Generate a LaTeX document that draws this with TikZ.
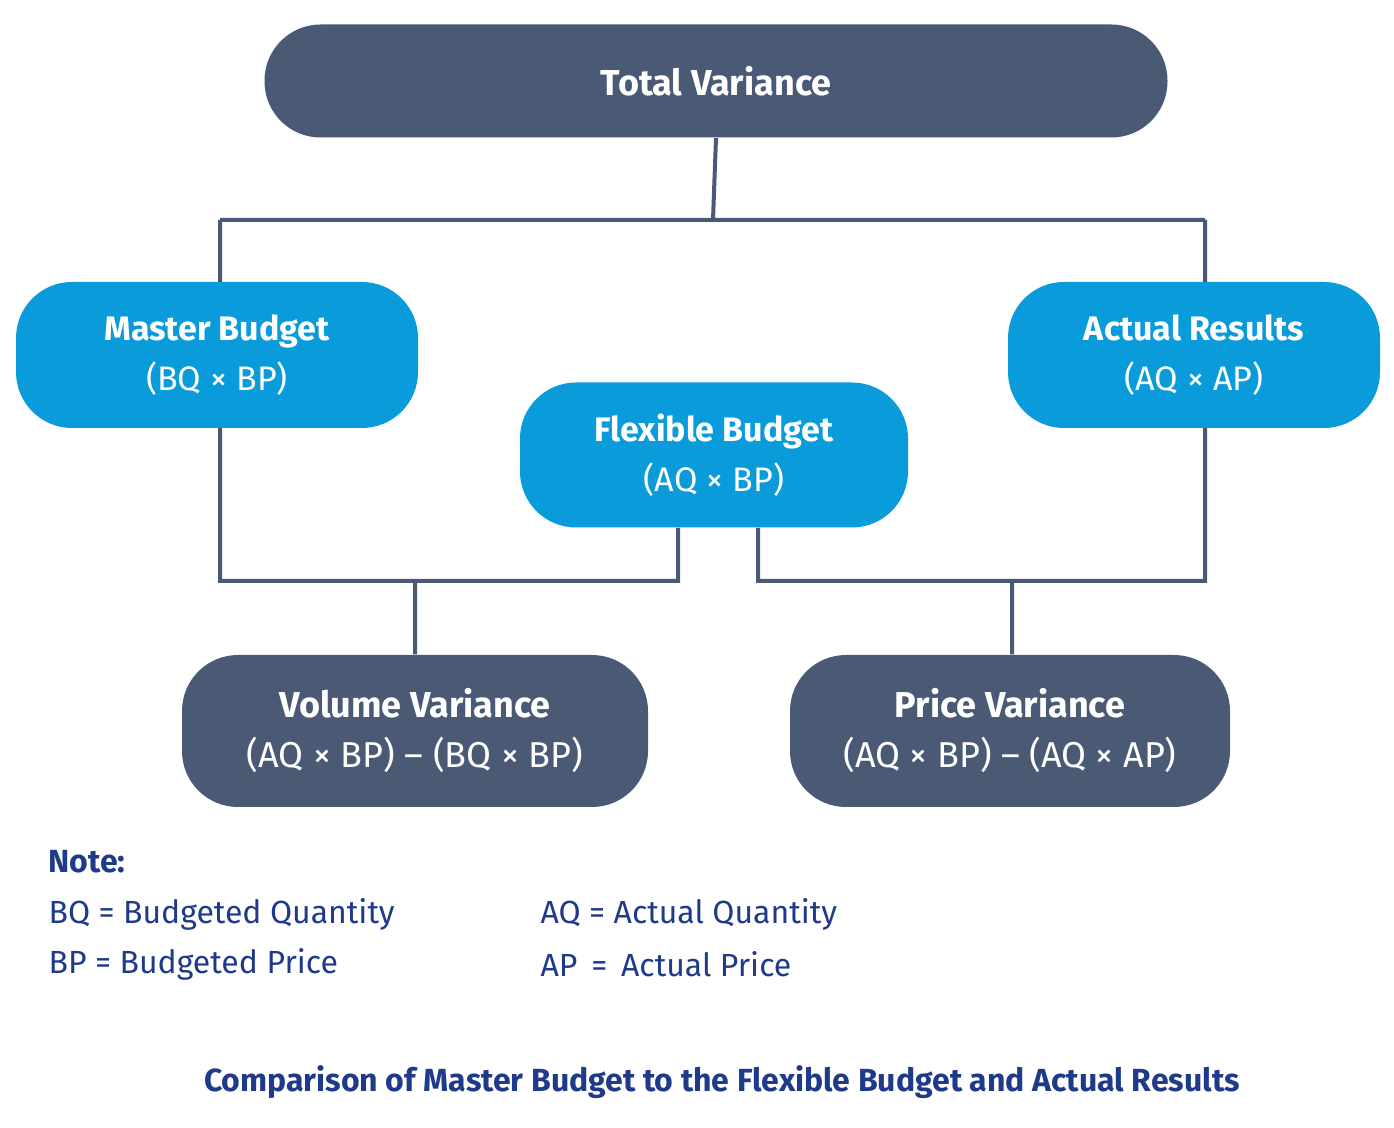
\documentclass[tikz,border=0pt]{standalone}
\usepackage{fontspec}
\setmainfont{Fira Sans}
\usetikzlibrary{positioning,calc}
\definecolor{slate}{HTML}{4A5A75}
\definecolor{skyblue}{HTML}{0A9BDB}
\definecolor{navy}{HTML}{1F3A8A}
\begin{document}
\begin{tikzpicture}[x=0.5pt,y=-0.5pt,semithick]
\tikzset{
	dark box/.style={rectangle,rounded corners=28pt,fill=slate,text=white,align=center,font=\fontsize{18}{25}\selectfont},
	blue box/.style={rectangle,rounded corners=28pt,fill=skyblue,text=white,align=center,font=\fontsize{17}{25}\selectfont},
	link/.style={draw=slate,line width=2pt},
	note text/.style={anchor=west,text=navy,font=\fontsize{16}{19}\selectfont,inner sep=0}
}
\useasboundingbox[fill=white] (0,0) rectangle (1394,1128);

      \node[dark box,minimum width=451.5pt,minimum height=56.5pt] (total) at (716,81) {\textbf{Total Variance}};
      \node[blue box,minimum width=201pt,minimum height=73pt] (master) at (217,355) {\textbf{Master Budget}\\(BQ × BP)};
      \node[blue box,minimum width=186pt,minimum height=73pt] (actual) at (1194,355) {\textbf{Actual Results}\\(AQ × AP)};
      \node[blue box,minimum width=194pt,minimum height=72.5pt] (flex) at (714,455) {\textbf{Flexible Budget}\\(AQ × BP)};
      \node[dark box,minimum width=233pt,minimum height=76pt] (volume) at (415,731) {\textbf{Volume Variance}\\(AQ × BP) – (BQ × BP)};
      \node[dark box,minimum width=220pt,minimum height=76pt] (price) at (1010,731) {\textbf{Price Variance}\\(AQ × BP) – (AQ × AP)};

      \coordinate (split) at (713,220);
      \coordinate (lowL) at (415,581);
      \coordinate (lowR) at (1012,581);

    \path[link] (total.south) -- (split)
                (220,220) -- (1205,220)
                (220,220) -- (220,282)
                (1205,220) -- (1205,282)
                (220,428) |- (678,581) -- (678,528)
                (758,528) |- (1205,581) -- (1205,428)
                (lowL) -- (volume.north)
                (lowR) -- (lowR |- price.north);

      \node[note text] (note) at (48,862) {\textbf{Note:}};
      \node[note text] (bq) at (48,914) {BQ = Budgeted Quantity};
      \node[note text] (bp) at (48,964) {BP = Budgeted Price};
      \node[note text] (aq) at (540,914) {AQ = Actual Quantity};
      \node[note text] (ap) at (540,964) {AP \,= \,Actual Price};
      \node[text=navy,font=\fontsize{16}{19}\selectfont\bfseries] (caption) at (722,1082) {Comparison of Master Budget to the Flexible Budget and Actual Results};
\end{tikzpicture}
\end{document}
